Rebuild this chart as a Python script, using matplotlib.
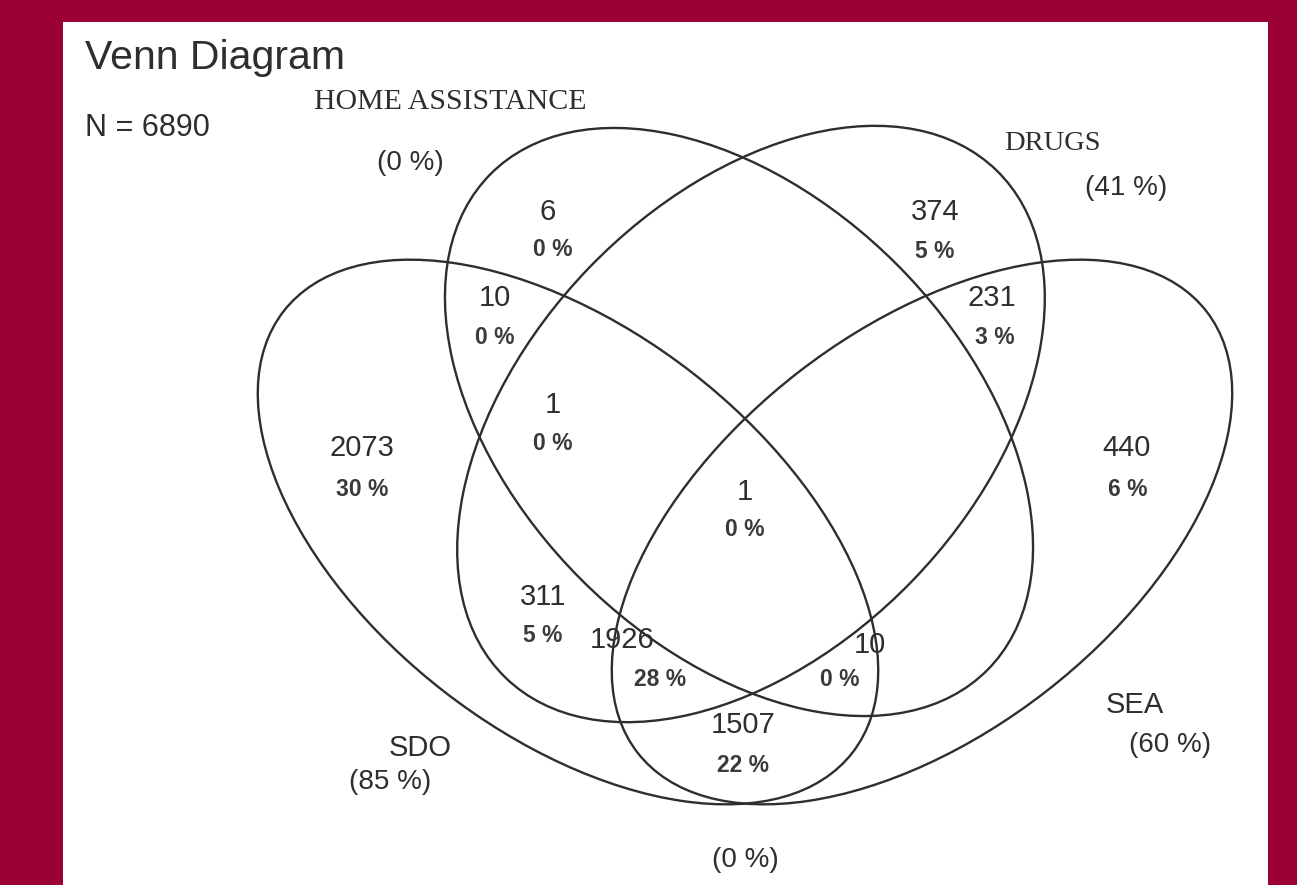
import matplotlib
matplotlib.use("Agg")
import matplotlib.pyplot as plt
from matplotlib.patches import Ellipse, Rectangle

# ---- data ----
title = "Venn Diagram"
n_total = "N = 6890"
set_names = ["HOME ASSISTANCE", "DRUGS", "SEA", "SDO"]
set_pcts = ["(0 %)", "(41 %)", "(60 %)", "(85 %)"]
outside_pct = "(0 %)"
region_counts = ["6", "374", "10", "231", "1", "2073", "440", "1", "311", "1926", "10", "1507"]
region_pcts = ["0 %", "5 %", "0 %", "3 %", "0 %", "30 %", "6 %", "0 %", "5 %", "28 %", "0 %", "22 %"]

# ---- layout (pixel space) ----
W, H = 1297, 885
ell_centers = [(739, 422), (751, 424), (922, 532), (568, 532)]
ell_axes = [(351, 223), (353, 225), (360, 202), (360, 202)]
ell_angles = [45, -46, -37.8, 37.8]
name_pos = [(450, 102), (1052, 143), (1135, 705), (420, 748)]
name_font = ["Liberation Serif", "Liberation Serif", "Liberation Sans", "Liberation Sans"]
pct_pos = [(410, 163), (1126, 188), (1170, 745), (390, 782)]
num_pos = [(548, 212), (935, 212), (495, 298), (992, 298), (553, 405), (362, 448),
           (1127, 448), (745, 492), (543, 597), (622, 640), (870, 645), (743, 725)]
pc_pos = [(553, 250), (935, 252), (495, 337), (995, 337), (553, 443), (362, 490),
          (1128, 490), (745, 530), (543, 635), (660, 680), (840, 680), (743, 766)]

bg = "#9b0036"
ink = "#2e2e2e"

fig = plt.figure(figsize=(W / 100, H / 100), dpi=100, facecolor=bg)
ax = fig.add_axes([0, 0, 1, 1])
ax.set_xlim(0, W)
ax.set_ylim(H, 0)
ax.axis("off")
ax.set_facecolor(bg)

ax.add_patch(Rectangle((63, 22), 1268 - 63, H - 22, facecolor="white", edgecolor="none", zorder=0))

for (cx, cy), (a, b), ang in zip(ell_centers, ell_axes, ell_angles):
    ax.add_patch(Ellipse((cx, cy), 2 * a, 2 * b, angle=ang, fill=False,
                         edgecolor=ink, linewidth=1.7, zorder=2))

ax.text(85, 58, title, fontsize=29.5, family="Liberation Sans", color=ink, va="center", ha="left")
ax.text(85, 128, n_total, fontsize=22, family="Liberation Sans", color=ink, va="center", ha="left")

name_sizes = [21.5, 20.5, 21, 21]
for name, (x, y), fam, fs in zip(set_names, name_pos, name_font, name_sizes):
    ax.text(x, y, name, fontsize=fs, family=fam, color=ink, ha="center", va="center")
for p, (x, y) in zip(set_pcts, pct_pos):
    ax.text(x, y, p, fontsize=20, family="Liberation Sans", color=ink, ha="center", va="center")
ax.text(745, 860, outside_pct, fontsize=20, family="Liberation Sans", color=ink, ha="center", va="center")

for c, (x, y) in zip(region_counts, num_pos):
    ax.text(x, y, c, fontsize=21, family="Liberation Sans", color=ink, ha="center", va="center", zorder=3)
for p, (x, y) in zip(region_pcts, pc_pos):
    ax.text(x, y, p, fontsize=16.5, family="Liberation Sans", weight="bold", color="#3a3a3a",
            ha="center", va="center", zorder=3)

fig.savefig("out.png", dpi=100, facecolor=bg)
